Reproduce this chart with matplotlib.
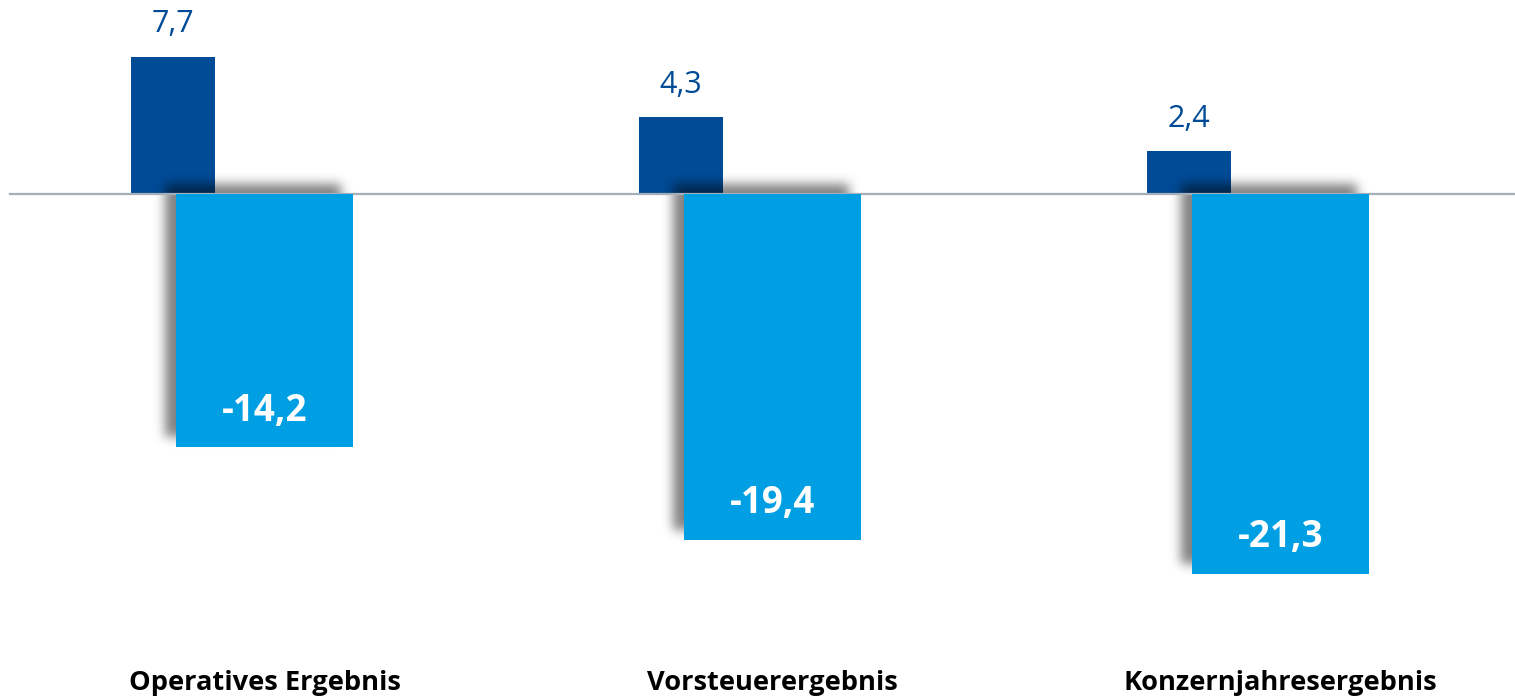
import numpy as np
import matplotlib.pyplot as plt

# Werte (Mio. EUR)
kategorien = ["Operatives Ergebnis", "Vorsteuerergebnis", "Konzernjahresergebnis"]
vorjahr = [7.7, 4.3, 2.4]
aktuell = [-14.2, -19.4, -21.3]
labels_vorjahr = ["7,7", "4,3", "2,4"]
labels_aktuell = ["-14,2", "-19,4", "-21,3"]

DUNKEL = "#004b96"
HELL = "#009fe3"

W, H = 1515, 699
fig = plt.figure(figsize=(W / 100, H / 100), dpi=100)
ax = fig.add_axes([0, 0, 1, 1])
ax.set_xlim(-0.5207, 2.4616)
ax.set_ylim(-28.29, 10.87)
ax.axis("off")

x = np.arange(len(kategorien))
off = 0.18
ax.bar(x - off, vorjahr, width=0.165, color=DUNKEL, zorder=2)
ax.bar(x, aktuell, width=0.348, color=HELL, zorder=4)
ax.axhline(0, xmin=10 / W, xmax=1, color="#a4afba", lw=1.6, zorder=3.5)

# weicher Schatten hinter den hellen Balken (links oben versetzt)
fig.canvas.draw()
alpha = np.zeros((H, W))
sigma = 5.5
k = np.arange(-20, 21)
kern = np.exp(-k**2 / (2 * sigma**2))
kern /= kern.sum()
for xi, v in zip(x, aktuell):
    (x0, y0), (x1, y1) = ax.transData.transform([(xi - 0.174, 0), (xi + 0.174, v)])
    # Pixel von oben
    x0, x1 = x0 - 11, x1 - 11
    top, bot = H - y0 - 10, H - y1 - 10
    fx = np.zeros(W); fx[int(x0):int(x1)] = 1
    fy = np.zeros(H); fy[int(top):int(bot)] = 1
    fx = np.convolve(fx, kern, mode="same")
    fy = np.convolve(fy, kern, mode="same")
    alpha = np.maximum(alpha, np.outer(fy, fx))
img = np.zeros((H, W, 4))
img[..., 3] = alpha * 0.5
ax.imshow(img, extent=(*ax.get_xlim(), *ax.get_ylim()), aspect="auto",
          zorder=3, interpolation="nearest")

for xi, v, t in zip(x, vorjahr, labels_vorjahr):
    ax.text(xi - off, v + 1.8, t, ha="center", va="center", fontsize=22,
            color=DUNKEL, family="Open Sans")
for xi, v, t in zip(x, aktuell, labels_aktuell):
    ax.text(xi, v + 2.07, t, ha="center", va="center", fontsize=26.5,
            color="white", fontweight="bold", family="Open Sans", zorder=5)
for xi, t in zip(x, kategorien):
    ax.text(xi, -27.4, t, ha="center", va="center", fontsize=19.6,
            color="black", fontweight="bold", family="Open Sans")

fig.savefig("out.png", dpi=100)
